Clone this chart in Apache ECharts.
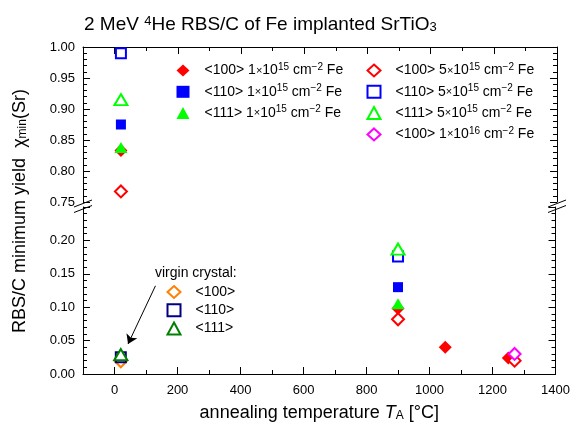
<!DOCTYPE html>
<html>
<head>
<meta charset="utf-8">
<script src="https://cdn.jsdelivr.net/npm/echarts@6/dist/echarts.min.js"></script>
<style>
  html, body { margin: 0; padding: 0; background: #fff; }
  #chart { width: 573px; height: 425px; }
</style>
</head>
<body>
<div id="chart"></div>
<script>
const FONT = 'Liberation Sans'

// 数据: [退火温度 T_A (°C), chi_min]
const fe100Dose1e15 = [[20, 0.833], [900, 0.098], [1050, 0.040], [1250, 0.024]]
const fe110Dose1e15 = [[20, 0.875], [900, 0.130]]
const fe111Dose1e15 = [[20, 0.838], [900, 0.105]]
const fe100Dose5e15 = [[20, 0.767], [900, 0.082], [1270, 0.020]]
const fe110Dose5e15 = [[20, 0.990], [900, 0.176]]
const fe111Dose5e15 = [[20, 0.915], [900, 0.187]]
const fe100Dose1e16 = [[1270, 0.030]]
const virgin100 = [[20, 0.019]]
const virgin110 = [[20, 0.025]]
const virgin111 = [[20, 0.029]]

// 断轴: 上半 0.75-1.00, 下半 0-0.25
const upperRange = [0.75, 1.0]
const lowerRange = [0, 0.25]
const tempRange = [-100, 1400]

// 图例名
const implanted = [
  { name: '<100> 1×10^15 cm^−2 Fe', data: fe100Dose1e15, symbol: 'diamond', color: '#ff0000', size: 13 },
  { name: '<110> 1×10^15 cm^−2 Fe', data: fe110Dose1e15, symbol: 'rect', color: '#0000ff', size: 10 },
  { name: '<111> 1×10^15 cm^−2 Fe', data: fe111Dose1e15, symbol: 'triangle', color: '#00ff00', size: [13, 11] },
  { name: '<100> 5×10^15 cm^−2 Fe', data: fe100Dose5e15, symbol: 'emptyDiamond', color: '#ff0000', size: 12 },
  { name: '<110> 5×10^15 cm^−2 Fe', data: fe110Dose5e15, symbol: 'emptyRect', color: '#0000ff', size: 10 },
  { name: '<111> 5×10^15 cm^−2 Fe', data: fe111Dose5e15, symbol: 'emptyTriangle', color: '#00ff00', size: [13, 11] },
  { name: '<100> 1×10^16 cm^−2 Fe', data: fe100Dose1e16, symbol: 'emptyDiamond', color: '#ff00ff', size: 12 }
]
const virgin = [
  { name: '<100>', data: virgin100, symbol: 'emptyDiamond', color: '#ff8000', size: 12 },
  { name: '<110>', data: virgin110, symbol: 'emptyRect', color: '#000080', size: 10 },
  { name: '<111>', data: virgin111, symbol: 'emptyTriangle', color: '#008000', size: [13, 11] }
]

const black = '#000'
const richText = {
  sup: { fontSize: 10, fontFamily: FONT, color: black, verticalAlign: 'top', lineHeight: 11 },
  sub: { fontSize: 12, fontFamily: FONT, color: black, verticalAlign: 'bottom', lineHeight: 10 },
  tsup: { fontSize: 13, fontFamily: FONT, color: black, verticalAlign: 'top', lineHeight: 13 },
  tsub: { fontSize: 13, fontFamily: FONT, color: black, verticalAlign: 'bottom', lineHeight: 12 },
  x: { fontSize: 11, fontFamily: FONT, color: black },
  i: { fontSize: 18, fontFamily: FONT, color: black, fontStyle: 'italic' }
}

const toRich = function (name) {
  return name.replace(/\^(\S+)/g, '{sup|$1}').replace('×', '{x|×}')
}

// 把每组点分到上下两个 grid
let series = []
implanted.concat(virgin).forEach(def => {
  let upper = def.data.filter(p => p[1] >= 0.5)
  let lower = def.data.filter(p => p[1] < 0.5)
  ;[[upper, 0, 0], [lower, 1, 2]].forEach(([pts, xi, yi]) => {
    if (!pts.length) return
    series.push({
      type: 'scatter',
      name: def.name,
      xAxisIndex: xi,
      yAxisIndex: yi,
      data: pts,
      symbol: def.symbol,
      symbolSize: def.size,
      itemStyle: { color: def.color, borderColor: def.color, borderWidth: def.symbol.indexOf('empty') === 0 ? 1.5 : 0, opacity: 1 },
      emphasis: { disabled: true }
    })
  })
})

// 箭头 (virgin crystal -> 数据点)
series.push({
  type: 'scatter',
  xAxisIndex: 1,
  yAxisIndex: 2,
  data: [],
  markLine: {
    silent: true,
    symbol: ['none', 'arrow'],
    symbolSize: 9,
    label: { show: false },
    lineStyle: { color: black, width: 1, type: 'solid' },
    data: [[{ coord: [130, 0.132] }, { coord: [43, 0.045] }]]
  }
})

const axisLine = { show: true, onZero: false, lineStyle: { color: black, width: 1 } }
const axisTick = { show: true, inside: true, length: 7, lineStyle: { color: black } }
const minorTick = function (n) {
  return { show: true, splitNumber: n, length: 4, lineStyle: { color: black } }
}
const tickLabel = { color: black, fontFamily: FONT, fontSize: 13 }

const xAxisFor = function (gridIndex, position, labels) {
  let ax = {
    type: 'value',
    gridIndex: gridIndex,
    position: position,
    min: tempRange[0],
    max: tempRange[1],
    splitNumber: 7,
    axisLine: axisLine,
    axisTick: axisTick,
    minorTick: minorTick(2),
    splitLine: { show: false },
    axisLabel: Object.assign({ show: labels, margin: 10, showMinLabel: false, formatter: v => String(v) }, tickLabel)
  }
  if (labels) {
    ax.name = 'annealing temperature {i|T}{sub|A} [°C]'
    ax.nameLocation = 'middle'
    ax.nameGap = 30
    ax.nameTextStyle = { color: black, fontFamily: FONT, fontSize: 18, rich: richText }
  }
  return ax
}

const yAxisFor = function (gridIndex, range, position, labels) {
  return {
    type: 'value',
    gridIndex: gridIndex,
    position: position,
    min: range[0],
    max: range[1],
    interval: 0.05,
    axisLine: axisLine,
    axisTick: axisTick,
    minorTick: minorTick(5),
    splitLine: { show: false },
    axisLabel: Object.assign({
      show: labels,
      margin: 8,
      showMaxLabel: gridIndex === 0,
      formatter: v => v.toFixed(2)
    }, tickLabel)
  }
}

// 断轴记号
let graphics = []
;[83, 557].forEach(x => {
  ;[203.5, 209].forEach(y => {
    graphics.push({ type: 'line', shape: { x1: x - 9, y1: y + 3.5, x2: x + 9, y2: y - 3.5 }, style: { stroke: black, lineWidth: 1 }, silent: true })
  })
})
graphics.push({
  type: 'text', x: 20, y: 211, rotation: Math.PI / 2, silent: true,
  style: { text: 'RBS/C minimum yield  χ{sub|min}(Sr)', fontFamily: FONT, fontSize: 18, fill: black, align: 'center', verticalAlign: 'middle', rich: richText }
})
graphics.push({
  type: 'text', x: 155, y: 273, silent: true,
  style: { text: 'virgin crystal:', fontFamily: FONT, fontSize: 14, fill: black, verticalAlign: 'middle' }
})

const legendFor = function (names, left, top, lineHeight, gap) {
  return {
    data: names,
    orient: 'vertical',
    left: left,
    top: top,
    padding: 0,
    itemWidth: 13,
    itemHeight: 12,
    itemGap: gap,
    selectedMode: false,
    formatter: toRich,
    textStyle: { color: black, fontFamily: FONT, fontSize: 14, lineHeight: lineHeight, padding: [0, 0, 0, 10], rich: richText }
  }
}

let chart = echarts.init(document.getElementById('chart'))
chart.setOption({
  animation: false,
  backgroundColor: '#fff',
  title: {
    text: '2 MeV {tsup|4}He RBS/C of Fe implanted SrTiO{tsub|3}',
    left: 84,
    top: 15,
    padding: 0,
    textStyle: { color: black, fontFamily: FONT, fontSize: 19, fontWeight: 'normal', rich: richText }
  },
  legend: [
    legendFor(implanted.slice(0, 3).map(d => d.name), 176.5, 62, 17, 4.3),
    legendFor(implanted.slice(3).map(d => d.name), 366.5, 62, 17, 4.3),
    legendFor(virgin.map(d => d.name), 166.5, 284, 16, 2.3)
  ],
  grid: [
    { left: 83, top: 47, width: 474, height: 155 },
    { left: 83, top: 207, width: 474, height: 167 }
  ],
  xAxis: [
    xAxisFor(0, 'top', false),
    xAxisFor(1, 'bottom', true)
  ],
  yAxis: [
    yAxisFor(0, upperRange, 'left', true),
    yAxisFor(0, upperRange, 'right', false),
    yAxisFor(1, lowerRange, 'left', true),
    yAxisFor(1, lowerRange, 'right', false)
  ],
  graphic: graphics,
  series: series
})
</script>
</body>
</html>
